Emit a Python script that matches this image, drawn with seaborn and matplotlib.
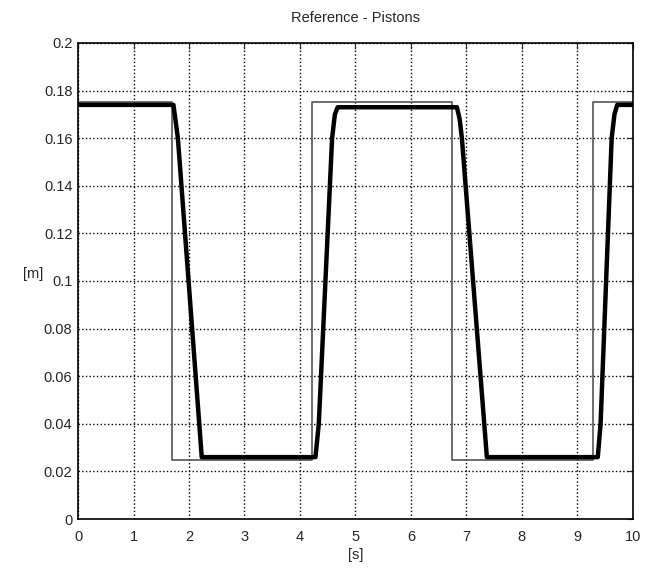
import seaborn as sns
import matplotlib
matplotlib.use("Agg")
import matplotlib.pyplot as plt
import pandas as pd

# reference signal (step changes)
ref_t = [0, 1.70, 1.70, 4.22, 4.22, 6.75, 6.75, 9.28, 9.28, 10]
ref_y = [0.175, 0.175, 0.025, 0.025, 0.175, 0.175, 0.025, 0.025, 0.175, 0.175]

# piston position
piston_t = [0, 1.72, 1.80, 2.23, 4.28, 4.34, 4.58, 4.63, 4.68, 6.83, 6.88, 6.92,
            7.37, 9.37, 9.42, 9.62, 9.67, 9.72, 10]
piston_y = [0.174, 0.174, 0.160, 0.026, 0.026, 0.040, 0.160, 0.170, 0.173, 0.173, 0.168, 0.160,
            0.026, 0.026, 0.040, 0.160, 0.170, 0.174, 0.174]

x_ticks = list(range(0, 11))
y_ticks = [0, 0.02, 0.04, 0.06, 0.08, 0.1, 0.12, 0.14, 0.16, 0.18, 0.2]
y_labels = ['0', '0.02', '0.04', '0.06', '0.08', '0.1', '0.12', '0.14', '0.16', '0.18', '0.2']

sns.set_style("white")
plt.rcParams['font.family'] = ['Liberation Sans', 'DejaVu Sans']

fig = plt.figure(figsize=(6.45, 5.77), dpi=100)
ax = fig.add_axes([0.121, 0.1005, 0.86, 0.825])

ref = pd.DataFrame({'t': ref_t, 'y': ref_y})
pis = pd.DataFrame({'t': piston_t, 'y': piston_y})
sns.lineplot(data=ref, x='t', y='y', sort=False, estimator=None, errorbar=None,
             ax=ax, color='#555555', linewidth=1.2)
sns.lineplot(data=pis, x='t', y='y', sort=False, estimator=None, errorbar=None,
             ax=ax, color='black', linewidth=3.2)

ax.set_xlim(0, 10)
ax.set_ylim(0, 0.2)
ax.set_xticks(x_ticks)
ax.set_yticks(y_ticks)
ax.set_yticklabels(y_labels)
ax.grid(True, color='black', linestyle=':', linewidth=1.0)
ax.tick_params(direction='in', top=True, right=True, length=4, labelsize=10.5)
ax.tick_params(axis='x', pad=8)
ax.tick_params(axis='y', pad=4)
for s in ax.spines.values():
    s.set_color('black')
    s.set_linewidth(1.2)

ax.set_title('Reference - Pistons', fontsize=10.5, pad=15)
ax.set_xlabel('[s]', fontsize=10.5, labelpad=3)
ax.set_ylabel('[m]', fontsize=10.5, rotation=0, labelpad=8)

fig.savefig('out.png', dpi=100)
plt.close()
